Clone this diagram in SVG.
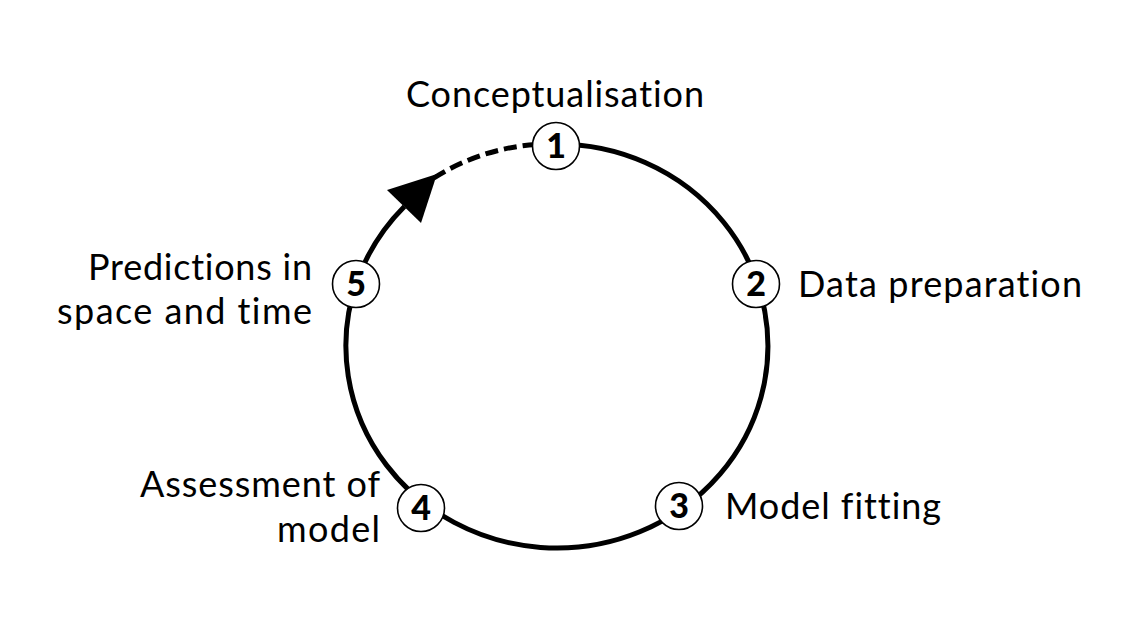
<svg xmlns="http://www.w3.org/2000/svg" width="1145" height="640" viewBox="0 0 1145 640">
<style>
.lbl{font-family:Lato,"Open Sans","Liberation Sans",sans-serif;font-size:36px;fill:#000;font-variant-ligatures:none}
.num{font-family:Lato,"Open Sans","Liberation Sans",sans-serif;font-size:34px;font-weight:900;fill:#000;text-anchor:middle}
.node{fill:#fff;stroke:#000;stroke-width:1.6}
.ring{fill:none;stroke:#000;stroke-width:5}
</style>
<rect width="1145" height="640" fill="#fff"/>
<g id="connectors">
<path class="ring" d="M 557 144 A 211 202 0 1 1 404.4 206.4"/>
<path class="ring" stroke-dasharray="13 6" d="M 434 178 A 211 202 0 0 1 557 144"/>
<polygon points="437,174 387,190 421,223" fill="#000"/>
</g>
<g id="node1"><circle class="node" cx="556" cy="146" r="23.5"/><text class="num" x="556" y="158">1</text><text class="lbl" x="406" y="107" textLength="298" lengthAdjust="spacing">Conceptualisation</text></g>
<g id="node2"><circle class="node" cx="756" cy="284" r="23.5"/><text class="num" x="756" y="296">2</text><text class="lbl" x="798" y="297" textLength="284" lengthAdjust="spacing">Data preparation</text></g>
<g id="node3"><circle class="node" cx="679" cy="506" r="23.5"/><text class="num" x="679" y="518">3</text><text class="lbl" x="725" y="519" textLength="216" lengthAdjust="spacing">Model fitting</text></g>
<g id="node4"><circle class="node" cx="421" cy="508" r="23.5"/><text class="num" x="421" y="520">4</text><text class="lbl" x="140" y="497" textLength="240" lengthAdjust="spacing">Assessment of</text><text class="lbl" x="277" y="542" textLength="103" lengthAdjust="spacing">model</text></g>
<g id="node5"><circle class="node" cx="356" cy="284" r="23.5"/><text class="num" x="356" y="296">5</text><text class="lbl" x="88" y="280" textLength="224" lengthAdjust="spacing">Predictions in</text><text class="lbl" x="57" y="324" textLength="255" lengthAdjust="spacing">space and time</text></g>
</svg>
